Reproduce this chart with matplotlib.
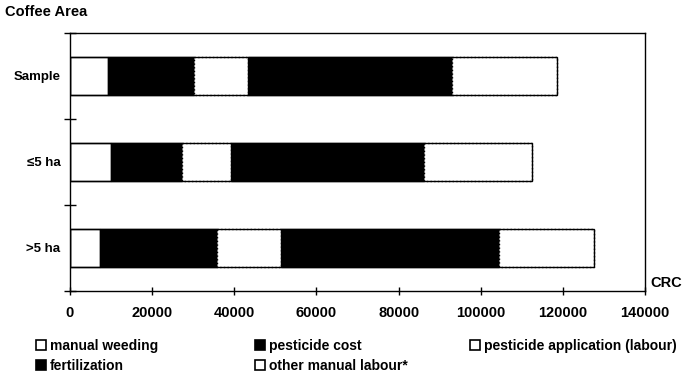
import matplotlib
matplotlib.use("Agg")
import matplotlib.pyplot as plt
from matplotlib.patches import Patch
import numpy as np

plt.rcParams['font.family'] = ['Liberation Sans', 'DejaVu Sans']

categories = ["Sample", "\u22645 ha", ">5 ha"]
components = ["manual weeding", "pesticide cost", "pesticide application (labour)",
              "fertilization", "other manual labour*"]
manual_weeding = [9200, 10100, 7300]
pesticide_cost = [21100, 17100, 28400]
pesticide_application = [13100, 11900, 15600]
fertilization = [49700, 47100, 53200]
other_manual_labour = [25400, 26400, 23000]
x_ticks = [0, 20000, 40000, 60000, 80000, 100000, 120000, 140000]

series = [manual_weeding, pesticide_cost, pesticide_application,
          fertilization, other_manual_labour]
faces = ["white", "black", "white", "black", "white"]
edge_styles = ["-", "-", ":", "-", ":"]

fig = plt.figure(figsize=(6.96, 3.79), dpi=100)
ax = fig.add_axes([70/696, 1-291/379, 575/696, 258/379])

ypos = np.arange(len(categories))
left = np.zeros(len(categories))
for vals, fc, ls, name in zip(series, faces, edge_styles, components):
    ax.barh(ypos, vals, left=left, height=0.44, color=fc,
            edgecolor="black", linewidth=1.0, linestyle=ls, label=name)
    left = left + np.array(vals)

# outline around each full bar
ax.barh(ypos, left, height=0.44, fill=False, edgecolor="black", linewidth=1.0)

ax.set_xlim(0, 140000)
ax.set_ylim(len(categories) - 0.5, -0.5)
ax.set_xticks(x_ticks)
ax.set_xticklabels([str(t) for t in x_ticks], fontsize=10.5, fontweight="bold")
ax.set_yticks(ypos)
ax.set_yticklabels(categories, fontsize=9.5, fontweight="bold")
ax.tick_params(axis="y", length=0, pad=7)
ax.tick_params(axis="x", direction="inout", length=6, width=1, pad=8)
# category boundary ticks on the y axis
ax.set_yticks(np.arange(-0.5, len(categories), 1.0), minor=True)
ax.tick_params(axis="y", which="minor", direction="inout", length=8, width=1)
for s in ax.spines.values():
    s.set_linewidth(1.0)
    s.set_color("black")

fig.text(5/696, 1-12/379, "Coffee Area", fontsize=10.5, fontweight="bold",
         va="center", ha="left")
fig.text(650/696, 1-283/379, "CRC", fontsize=10.5, fontweight="bold",
         va="center", ha="left")

# legend keys drawn with solid outlines
keys = [Patch(facecolor=fc, edgecolor="black", linewidth=1.2) for fc in faces]
legend_cols = [(36/696, [0, 3]), (255/696, [1, 4]), (470/696, [2])]
for xa, idx in legend_cols:
    leg = fig.legend([keys[i] for i in idx], [components[i] for i in idx],
                     loc="upper left", bbox_to_anchor=(xa, 1-339/379),
                     frameon=False, fontsize=10, handlelength=0.75,
                     handleheight=0.75, handletextpad=0.25, labelspacing=0.4,
                     borderaxespad=0, borderpad=0)
    for t in leg.get_texts():
        t.set_fontweight("bold")

fig.savefig("out.png", dpi=100)
